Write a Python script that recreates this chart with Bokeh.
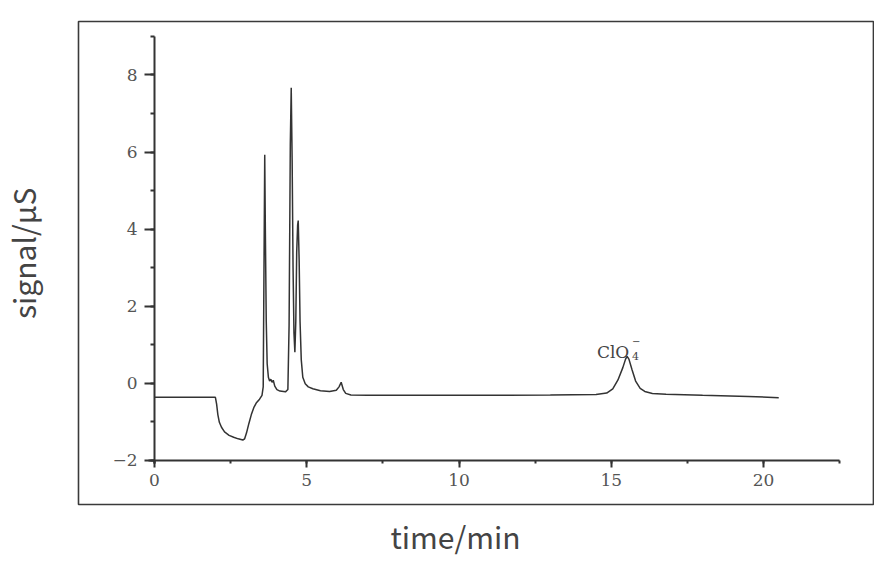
import numpy as np
from bokeh.plotting import figure
from bokeh.models import (LinearAxis, SingleIntervalTicker, Label, BoxAnnotation,
                          Range1d, ColumnDataSource)
from bokeh.embed import file_html
from bokeh.resources import INLINE

# ---- data ----
time_min = [0.0, 2.0, 2.04, 2.08, 2.13, 2.2, 2.3, 2.45, 2.6, 2.75, 2.9, 2.96, 3.02,
            3.1, 3.18, 3.26, 3.34, 3.45, 3.53, 3.57, 3.6, 3.62, 3.64, 3.67, 3.7,
            3.74, 3.78, 3.82, 3.86, 3.9, 3.95, 4.02, 4.12, 4.3, 4.38, 4.42, 4.46,
            4.49, 4.52, 4.55, 4.58, 4.61, 4.64, 4.67, 4.7, 4.72, 4.75, 4.78, 4.82,
            4.87, 4.95, 5.05, 5.2, 5.45, 5.75, 5.97, 6.06, 6.13, 6.2, 6.28, 6.45,
            7.0, 9.0, 11.0, 13.0, 14.5, 14.85, 15.05, 15.22, 15.38, 15.47, 15.52,
            15.58, 15.68, 15.8, 15.95, 16.1, 16.35, 16.8, 18.0, 19.5, 20.5]
signal_us = [-0.37, -0.37, -0.55, -0.82, -1.02, -1.15, -1.27, -1.36, -1.41, -1.45,
             -1.48, -1.45, -1.3, -1.05, -0.82, -0.64, -0.52, -0.42, -0.32, -0.1,
             3.5, 5.93, 4.0, 1.6, 0.5, 0.15, 0.05, 0.1, 0.02, 0.07, -0.08, -0.17,
             -0.21, -0.23, -0.17, 1.5, 6.2, 7.67, 5.8, 3.0, 1.3, 0.8, 1.6, 3.4, 4.1,
             4.22, 3.2, 1.6, 0.6, 0.15, -0.02, -0.1, -0.15, -0.2, -0.22, -0.19, -0.1,
             0.02, -0.17, -0.27, -0.31, -0.32, -0.32, -0.32, -0.31, -0.3, -0.26,
             -0.15, 0.08, 0.4, 0.62, 0.69, 0.62, 0.35, 0.05, -0.14, -0.22, -0.27,
             -0.29, -0.32, -0.35, -0.38]
x_tick_step = 5
y_tick_step = 2
x_axis_bounds = (-0.2, 22.5)
y_axis_bounds = (-2.1, 9.0)
x_title = "time/min"
y_title = "signal/μS"
peak_text = "ClO"
peak_sub = "4"
peak_sup = "−"

INK = "#333333"
TICK_TXT = "#555555"
TITLE_TXT = "#444444"
ANNOT_TXT = "#444444"

source = ColumnDataSource(data=dict(t=time_min, s=signal_us))

# the plotting frame covers the whole canvas; the boxed panel is drawn inside it
W, H = 874, 560
p = figure(width=W, height=H, output_backend="svg", toolbar_location=None,
           x_range=Range1d(-5.0575, 23.645), y_range=Range1d(-4.610, 9.935),
           x_axis_location=None, y_axis_location=None,
           min_border=0, min_border_left=0, min_border_right=0,
           min_border_top=0, min_border_bottom=0)
p.grid.visible = False
p.outline_line_color = None
p.background_fill_color = "white"
p.border_fill_color = "white"

# outer box around the chart panel
p.add_layout(BoxAnnotation(left=-2.496, right=23.61, bottom=-3.156, top=9.39,
                           fill_alpha=0, fill_color=None, line_color="#3a3a3a",
                           line_alpha=1.0, line_width=1.6))

p.line("t", "s", source=source, line_color=INK, line_width=1.5)

# main axes drawn inside the box
xax = LinearAxis(ticker=SingleIntervalTicker(interval=x_tick_step, num_minor_ticks=2),
                 fixed_location=y_axis_bounds[0] + 0.1, bounds=x_axis_bounds)
yax = LinearAxis(ticker=SingleIntervalTicker(interval=y_tick_step, num_minor_ticks=2),
                 fixed_location=0, bounds=y_axis_bounds)
for ax in (xax, yax):
    ax.axis_line_color = INK
    ax.axis_line_width = 2
    ax.major_tick_line_color = INK
    ax.major_tick_line_width = 2
    ax.minor_tick_line_color = INK
    ax.minor_tick_line_width = 2
    ax.major_tick_in = 0
    ax.minor_tick_in = 0
    ax.major_label_text_font = "DejaVu Serif"
    ax.major_label_text_font_size = "17px"
    ax.major_label_text_color = TICK_TXT
xax.major_tick_out = 7
xax.minor_tick_out = 3
xax.major_label_standoff = 7
yax.major_tick_out = 10
yax.minor_tick_out = 4
yax.major_label_standoff = 7
p.add_layout(xax, "below")
p.add_layout(yax, "left")

# outer axis titles
p.add_layout(Label(x=9.885, y=-3.961, text=x_title, text_align="center",
                   text_baseline="alphabetic", text_font="Noto Sans CJK SC",
                   text_font_size="30px", text_color=TITLE_TXT))
p.add_layout(Label(x=-4.312, y=3.37, text=y_title, angle=np.pi / 2,
                   text_align="center", text_baseline="alphabetic",
                   text_font="Noto Sans CJK SC", text_font_size="30px",
                   text_color=TITLE_TXT))

# peak annotation for the perchlorate peak
t_arr = np.array(time_min)
s_arr = np.array(signal_us)
late = t_arr > 14
i_pk = int(np.argmax(np.where(late, s_arr, -np.inf)))
pk_t, pk_s = float(t_arr[i_pk]), float(s_arr[i_pk])
p.add_layout(Label(x=pk_t, y=pk_s, text=peak_text, x_offset=-14, y_offset=4,
                   text_align="center", text_baseline="alphabetic",
                   text_font="DejaVu Serif", text_font_size="17px", text_color=ANNOT_TXT))
p.add_layout(Label(x=pk_t, y=pk_s, text=peak_sub, x_offset=5, y_offset=0,
                   text_align="left", text_baseline="alphabetic",
                   text_font="DejaVu Serif", text_font_size="11px", text_color=ANNOT_TXT))
p.add_layout(Label(x=pk_t, y=pk_s, text=peak_sup, x_offset=5, y_offset=15,
                   text_align="left", text_baseline="middle",
                   text_font="DejaVu Serif", text_font_size="10px", text_color=ANNOT_TXT))

open("out.html", "w").write(file_html(p, INLINE))
